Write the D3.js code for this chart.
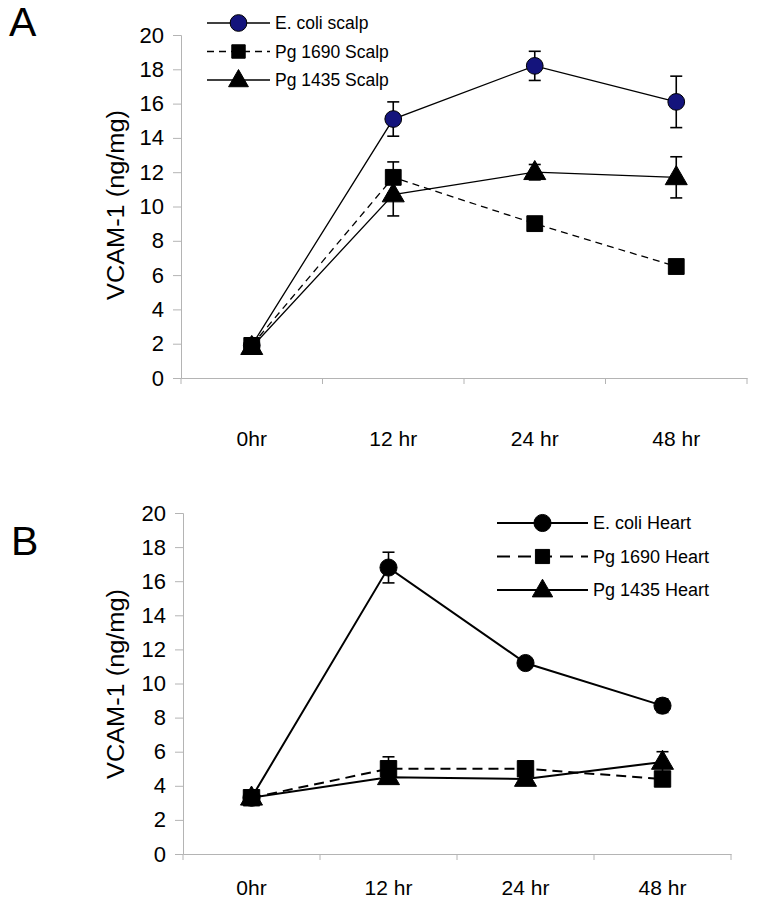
<!DOCTYPE html>
<html>
<head>
  <meta charset="utf-8">
  <title>VCAM-1</title>
  <script src="https://d3js.org/d3.v7.min.js"></script>
  <style>
    body { margin: 0; background: #fff; }
    text { font-family: "Liberation Sans", Arial, sans-serif; }
  </style>
</head>
<body>
<script>
  // shared data
  var times = ["0hr", "12 hr", "24 hr", "48 hr"];
  var yTicks = [0, 2, 4, 6, 8, 10, 12, 14, 16, 18, 20];

  // panel A (scalp)
  var scalpNames = ["E. coli scalp", "Pg 1690 Scalp", "Pg 1435 Scalp"];
  var ecoliScalp = [1.9, 15.1, 18.2, 16.1];
  var ecoliScalpErr = [0, 1.0, 0.85, 1.5];
  var pg1690Scalp = [1.9, 11.7, 9.0, 6.5];
  var pg1690ScalpErr = [0, 0.9, 0.3, 0];
  var pg1435Scalp = [1.8, 10.7, 12.0, 11.7];
  var pg1435ScalpErr = [0, 1.25, 0.45, 1.2];

  // panel B (heart)
  var heartNames = ["E. coli Heart", "Pg 1690 Heart", "Pg 1435 Heart"];
  var ecoliHeart = [3.3, 16.8, 11.2, 8.7];
  var ecoliHeartErr = [0, 0.9, 0.2, 0.4];
  var pg1690Heart = [3.3, 5.0, 5.0, 4.4];
  var pg1690HeartErr = [0, 0.7, 0.4, 0.3];
  var pg1435Heart = [3.3, 4.5, 4.4, 5.4];
  var pg1435HeartErr = [0, 0.3, 0.3, 0.6];

  var svg = d3.select("body").append("svg")
    .attr("width", 759)
    .attr("height", 913);

  function drawPanel(cfg) {
    var x = d3.scaleBand().domain(times).range([cfg.x0, cfg.x1]).padding(0);
    var y = d3.scaleLinear().domain([0, 20]).range([cfg.yBottom, cfg.yTop]);
    var g = svg.append("g");

    // y axis
    var ya = g.append("g")
      .attr("transform", "translate(" + cfg.x0 + ",0)")
      .call(d3.axisLeft(y).tickValues(yTicks).tickSize(8).tickPadding(9));
    ya.select(".domain").attr("stroke", "#b4b4b4");
    ya.selectAll(".tick line").attr("stroke", "#b4b4b4");
    ya.selectAll("text").attr("font-size", 22).attr("fill", "#000")
      .attr("font-family", "Liberation Sans, Arial, sans-serif");

    // x axis: labels at centers, ticks at band edges
    var xa = g.append("g")
      .attr("transform", "translate(0," + cfg.yBottom + ")")
      .call(d3.axisBottom(x).tickSize(0).tickPadding(cfg.labelPad).tickSizeOuter(0));
    xa.select(".domain").attr("stroke", "#b4b4b4");
    xa.selectAll("text").attr("font-size", 21).attr("fill", "#000")
      .attr("font-family", "Liberation Sans, Arial, sans-serif");
    var edges = times.map(function(t) { return x(t); }).concat([cfg.x1]);
    g.selectAll(".edge").data(edges).enter().append("line")
      .attr("x1", function(d) { return d; }).attr("x2", function(d) { return d; })
      .attr("y1", cfg.yBottom).attr("y2", cfg.yBottom + 6)
      .attr("stroke", "#b4b4b4");

    // y title
    g.append("text")
      .attr("transform", "translate(" + cfg.titleX + "," + cfg.titleY + ") rotate(-90)")
      .attr("text-anchor", "middle")
      .attr("font-size", 23)
      .attr("textLength", 190)
      .attr("lengthAdjust", "spacingAndGlyphs")
      .text("VCAM-1 (ng/mg)");

    // panel letter
    g.append("text")
      .attr("x", cfg.letterX).attr("y", cfg.letterY)
      .attr("font-size", 41)
      .text(cfg.letter);

    var cx = function(i) { return x(times[i]) + x.bandwidth() / 2; };

    cfg.series.forEach(function(s) {
      var line = d3.line()
        .x(function(d, i) { return cx(i); })
        .y(function(d) { return y(d); });
      g.append("path")
        .datum(s.values)
        .attr("d", line)
        .attr("fill", "none")
        .attr("stroke", "#000")
        .attr("stroke-width", cfg.lineWidth)
        .attr("stroke-dasharray", s.dash || null);

      // error bars
      s.values.forEach(function(v, i) {
        var e = s.err[i];
        if (!e) return;
        var eg = g.append("g").attr("stroke", "#000").attr("stroke-width", 1.6);
        eg.append("line").attr("x1", cx(i)).attr("x2", cx(i))
          .attr("y1", y(v - e)).attr("y2", y(v + e));
        [v - e, v + e].forEach(function(vv) {
          eg.append("line").attr("x1", cx(i) - 6).attr("x2", cx(i) + 6)
            .attr("y1", y(vv)).attr("y2", y(vv));
        });
      });
    });

    // markers on top
    cfg.series.forEach(function(s) {
      g.selectAll(null).data(s.values).enter().append("path")
        .attr("transform", function(d, i) {
          return "translate(" + cx(i) + "," + (y(d) + (s.shape === d3.symbolTriangle ? 1 : 0)) + ")";
        })
        .attr("d", d3.symbol().type(s.shape).size(s.size))
        .attr("fill", s.fill)
        .attr("stroke", "#000")
        .attr("stroke-width", 1);
    });

    // legend
    var lg = g.append("g");
    cfg.series.forEach(function(s, i) {
      var ly = cfg.legY + i * cfg.legStep;
      lg.append("line")
        .attr("x1", cfg.legX0).attr("x2", cfg.legX1)
        .attr("y1", ly).attr("y2", ly)
        .attr("stroke", "#000").attr("stroke-width", cfg.lineWidth)
        .attr("stroke-dasharray", s.legDash || null);
      lg.append("path")
        .attr("transform", "translate(" + ((cfg.legX0 + cfg.legX1) / 2) + "," + (ly + (s.shape === d3.symbolTriangle ? 1 : 0)) + ")")
        .attr("d", d3.symbol().type(s.shape).size(s.legSize || s.size))
        .attr("fill", s.fill).attr("stroke", "#000");
      lg.append("text")
        .attr("x", cfg.legX1 + 5).attr("y", ly)
        .attr("dy", "0.35em")
        .attr("font-size", cfg.legFont)
        .text(cfg.names[i]);
    });
  }

  drawPanel({
    letter: "A", letterX: 9, letterY: 36,
    x0: 181, x1: 747, yTop: 35, yBottom: 378,
    labelPad: 53, titleX: 124, titleY: 205, lineWidth: 1.3,
    legX0: 207, legX1: 270, legY: 23, legStep: 28.5, legFont: 17.5,
    names: scalpNames,
    series: [
      { values: ecoliScalp, err: ecoliScalpErr, shape: d3.symbolCircle, size: 220, fill: "#14147c" },
      { values: pg1690Scalp, err: pg1690ScalpErr, shape: d3.symbolSquare, size: 250, fill: "#000", dash: "7,5", legDash: "7,5", legSize: 180 },
      { values: pg1435Scalp, err: pg1435ScalpErr, shape: d3.symbolTriangle, size: 210, fill: "#000", legSize: 170 }
    ]
  });

  drawPanel({
    letter: "B", letterX: 11, letterY: 555,
    x0: 183, x1: 731, yTop: 513, yBottom: 854,
    labelPad: 26, titleX: 124, titleY: 684, lineWidth: 2,
    legX0: 497, legX1: 588, legY: 523, legStep: 33.5, legFont: 18,
    names: heartNames,
    series: [
      { values: ecoliHeart, err: ecoliHeartErr, shape: d3.symbolCircle, size: 230, fill: "#000" },
      { values: pg1690Heart, err: pg1690HeartErr, shape: d3.symbolSquare, size: 270, fill: "#000", dash: "10,6", legDash: "13,8", legSize: 200 },
      { values: pg1435Heart, err: pg1435HeartErr, shape: d3.symbolTriangle, size: 210, fill: "#000", legSize: 180 }
    ]
  });
</script>
</body>
</html>
